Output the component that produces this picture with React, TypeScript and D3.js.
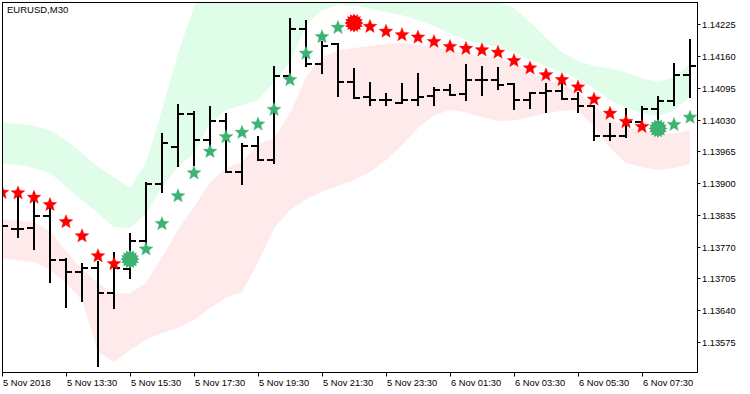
import React from "react";
import * as d3 from "d3";

const symbolTitle = "EURUSD,M30";

const opens = [1.13820, 1.13806, 1.13808, 1.13832, 1.13742, 1.13718, 1.13727, 1.13675, 1.13725, 1.13781, 1.13899, 1.13974, 1.14041, 1.13988, 1.14028, 1.13923, 1.13976, 1.13947, 1.14119, 1.14215, 1.14145, 1.14184, 1.14108, 1.14077, 1.14070, 1.14064, 1.14071, 1.14078, 1.14090, 1.14082, 1.14111, 1.14111, 1.14104, 1.14070, 1.14084, 1.14089, 1.14073, 1.14058, 1.13996, 1.13996, 1.14026, 1.14052, 1.14069, 1.14121];
const highs = [1.13837, 1.13880, 1.13880, 1.13851, 1.13744, 1.13734, 1.13739, 1.13756, 1.13795, 1.13901, 1.14000, 1.14059, 1.14046, 1.14055, 1.14041, 1.13980, 1.13994, 1.14137, 1.14237, 1.14232, 1.14189, 1.14184, 1.14133, 1.14106, 1.14082, 1.14104, 1.14123, 1.14094, 1.14101, 1.14141, 1.14138, 1.14136, 1.14104, 1.14085, 1.14104, 1.14103, 1.14084, 1.14058, 1.14021, 1.14051, 1.14056, 1.14077, 1.14143, 1.14194];
const lows = [1.13792, 1.13790, 1.13765, 1.13698, 1.13647, 1.13659, 1.13526, 1.13645, 1.13705, 1.13771, 1.13882, 1.13935, 1.13937, 1.13968, 1.13923, 1.13899, 1.13947, 1.13942, 1.14111, 1.14140, 1.14125, 1.14079, 1.14075, 1.14061, 1.14061, 1.14064, 1.14059, 1.14059, 1.14080, 1.14071, 1.14080, 1.14092, 1.14051, 1.14053, 1.14046, 1.14072, 1.14046, 1.13988, 1.13988, 1.13995, 1.14012, 1.14017, 1.14060, 1.14077];
const closes = [1.13813, 1.13806, 1.13832, 1.13742, 1.13718, 1.13727, 1.13675, 1.13727, 1.13781, 1.13899, 1.13983, 1.14041, 1.13988, 1.14028, 1.13923, 1.13976, 1.13947, 1.14119, 1.14215, 1.14145, 1.14181, 1.14108, 1.14075, 1.14070, 1.14070, 1.14071, 1.14077, 1.14090, 1.14080, 1.14111, 1.14111, 1.14101, 1.14070, 1.14084, 1.14089, 1.14073, 1.14058, 1.13996, 1.13996, 1.14026, 1.14051, 1.14069, 1.14121, 1.14140];

const stopLevels = [1.13882, 1.13881, 1.13872, 1.13857, 1.13822, 1.13793, 1.13752, 1.13736, 1.13744, 1.13766, 1.13818, 1.13875, 1.13922, 1.13966, 1.13996, 1.14005, 1.14022, 1.14052, 1.14113, 1.14167, 1.14201, 1.14220, 1.14228, 1.14222, 1.14212, 1.14205, 1.14200, 1.14191, 1.14181, 1.14177, 1.14174, 1.14169, 1.14152, 1.14137, 1.14123, 1.14113, 1.14098, 1.14073, 1.14044, 1.14027, 1.14017, 1.14012, 1.14021, 1.14036];
const stopSides = [
  "sell", "sell", "sell", "sell", "sell", "sell", "sell", "sell",
  "buy", "buy", "buy", "buy", "buy", "buy", "buy", "buy", "buy", "buy", "buy", "buy", "buy", "buy",
  "sell", "sell", "sell", "sell", "sell", "sell", "sell", "sell", "sell", "sell", "sell", "sell", "sell", "sell", "sell", "sell", "sell", "sell", "sell",
  "buy", "buy", "buy",
];

const upperOuter = [1.14024, 1.14021, 1.14017, 1.14009, 1.13988, 1.13961, 1.13933, 1.13912, 1.13890, 1.13941, 1.14050, 1.14166, 1.14260, 1.14336, 1.14367, 1.14387, 1.14398, 1.14398, 1.14402, 1.14402, 1.14398, 1.14387, 1.14377, 1.14367, 1.14357, 1.14347, 1.14336, 1.14326, 1.14316, 1.14306, 1.14291, 1.14271, 1.14258, 1.14230, 1.14197, 1.14168, 1.14150, 1.14140, 1.14135, 1.14127, 1.14115, 1.14107, 1.14117, 1.14144];
const upperInner = [1.13940, 1.13937, 1.13931, 1.13921, 1.13892, 1.13865, 1.13838, 1.13810, 1.13808, 1.13837, 1.13892, 1.13933, 1.13961, 1.14023, 1.14050, 1.14060, 1.14070, 1.14107, 1.14148, 1.14224, 1.14254, 1.14265, 1.14263, 1.14258, 1.14250, 1.14244, 1.14234, 1.14222, 1.14207, 1.14193, 1.14185, 1.14179, 1.14168, 1.14152, 1.14140, 1.14127, 1.14113, 1.14095, 1.14070, 1.14054, 1.14043, 1.14037, 1.14050, 1.14076];
const lowerInner = [1.13826, 1.13824, 1.13820, 1.13802, 1.13761, 1.13724, 1.13695, 1.13673, 1.13675, 1.13695, 1.13748, 1.13804, 1.13851, 1.13902, 1.13931, 1.13943, 1.13980, 1.13992, 1.14043, 1.14117, 1.14158, 1.14172, 1.14177, 1.14181, 1.14185, 1.14187, 1.14183, 1.14179, 1.14172, 1.14164, 1.14160, 1.14156, 1.14144, 1.14127, 1.14113, 1.14101, 1.14086, 1.14058, 1.14031, 1.14017, 1.14007, 1.14000, 1.14002, 1.14007];
const lowerOuter = [1.13746, 1.13742, 1.13738, 1.13722, 1.13695, 1.13660, 1.13554, 1.13533, 1.13558, 1.13579, 1.13593, 1.13603, 1.13619, 1.13644, 1.13665, 1.13677, 1.13738, 1.13808, 1.13845, 1.13867, 1.13882, 1.13894, 1.13906, 1.13923, 1.13947, 1.13978, 1.14013, 1.14039, 1.14050, 1.14045, 1.14035, 1.14027, 1.14029, 1.14035, 1.14043, 1.14048, 1.14050, 1.14015, 1.13972, 1.13941, 1.13933, 1.13927, 1.13931, 1.13939];

const priceTicks = [1.14225, 1.1416, 1.14095, 1.1403, 1.13965, 1.139, 1.13835, 1.1377, 1.13705, 1.1364, 1.13575];
const timeTickLabels = ["5 Nov 2018", "5 Nov 13:30", "5 Nov 15:30", "5 Nov 17:30", "5 Nov 19:30", "5 Nov 21:30", "5 Nov 23:30", "6 Nov 01:30", "6 Nov 03:30", "6 Nov 05:30", "6 Nov 07:30"];
const barsPerTimeTick = 4;

const W = 750;
const H = 394;
const PL = 2.5, PR = 697.5, PT = 2.5, PB = 372.5;
const FONT = "'Liberation Sans', Arial, sans-serif";

function starPath(cx: number, cy: number, R: number, r: number, n: number): string {
  const pts: [number, number][] = [];
  for (let i = 0; i < n * 2; i++) {
    const rad = i % 2 === 0 ? R : r;
    const a = -Math.PI / 2 + (i * Math.PI) / n;
    pts.push([cx + rad * Math.cos(a), cy + rad * Math.sin(a)]);
  }
  return "M" + pts.map((p) => p[0].toFixed(2) + "," + p[1].toFixed(2)).join("L") + "Z";
}

export default function App() {
  const n = closes.length;
  const x = d3.scaleLinear().domain([0, n - 1]).range([2, 690]);
  const y = d3.scaleLinear().domain([1.13511, 1.14271]).range([373, 2]);
  const idx = d3.range(n);

  const upperArea = d3.area<number>().x((i) => x(i)).y0((i) => y(upperInner[i])).y1((i) => y(upperOuter[i]));
  const lowerArea = d3.area<number>().x((i) => x(i)).y0((i) => y(lowerOuter[i])).y1((i) => y(lowerInner[i]));

  const colorOf = (s: string) => (s === "buy" ? "#3cb371" : "#ff0000");

  return (
    <svg width={W} height={H} style={{ position: "absolute", left: 0, top: 0, background: "#fff" }} fontFamily={FONT}>
      <defs>
        <clipPath id="plotClip">
          <rect x={PL + 0.5} y={PT + 0.5} width={PR - PL - 1} height={PB - PT - 1} />
        </clipPath>
      </defs>
      <rect x={0} y={0} width={W} height={H} fill="#fff" />
      <g clipPath="url(#plotClip)">
        <path d={upperArea(idx) || ""} fill="#dffde8" />
        <path d={lowerArea(idx) || ""} fill="#feeaea" />
        {idx.map((i) => {
          const bx = Math.round(x(i));
          const yo = Math.round(y(opens[i]));
          const yc = Math.round(y(closes[i]));
          const yh = Math.round(y(highs[i]));
          const yl = Math.round(y(lows[i]));
          return (
            <g key={"b" + i} stroke="#000" strokeWidth={2} shapeRendering="crispEdges">
              <line x1={bx} x2={bx} y1={yh - 1} y2={yl + 1} />
              <line x1={bx - 7} x2={bx} y1={yo} y2={yo} />
              <line x1={bx} x2={bx + 6} y1={yc} y2={yc} />
            </g>
          );
        })}
        {idx.map((i) => {
          const cx = x(i);
          const cy = y(stopLevels[i]);
          const flip = i > 0 && stopSides[i] !== stopSides[i - 1];
          const col = colorOf(stopSides[i]);
          if (flip) {
            return <path key={"s" + i} d={starPath(cx, cy, 9.5, 7.2, 16)} fill={col} />;
          }
          return (
            <path key={"s" + i} d={starPath(cx, cy + 0.7, 7.2, 3.1, 5)} fill={col}
              stroke={col} strokeWidth={0.4} strokeLinejoin="miter" />
          );
        })}
      </g>
      <rect x={PL} y={PT} width={PR - PL} height={PB - PT} fill="none" stroke="#000" strokeWidth={1} />
      <text x={7} y={13} fontSize={9.5} fill="#000">{symbolTitle}</text>
      {priceTicks.map((p) => {
        const ty = Math.round(y(p)) + 0.5;
        return (
          <g key={"p" + p}>
            <line x1={PR} x2={PR + 3} y1={ty} y2={ty} stroke="#000" />
            <text x={702} y={ty + 3.3} fontSize={9.3} fill="#000">{p.toFixed(5)}</text>
          </g>
        );
      })}
      {timeTickLabels.map((lab, j) => {
        const tx = Math.round(x(j * barsPerTimeTick)) + 0.5;
        return (
          <g key={"t" + j}>
            <line x1={tx} x2={tx} y1={PB} y2={PB + 4} stroke="#000" />
            <text x={tx + 0.5} y={386} fontSize={9.3} fill="#000">{lab}</text>
          </g>
        );
      })}
    </svg>
  );
}
